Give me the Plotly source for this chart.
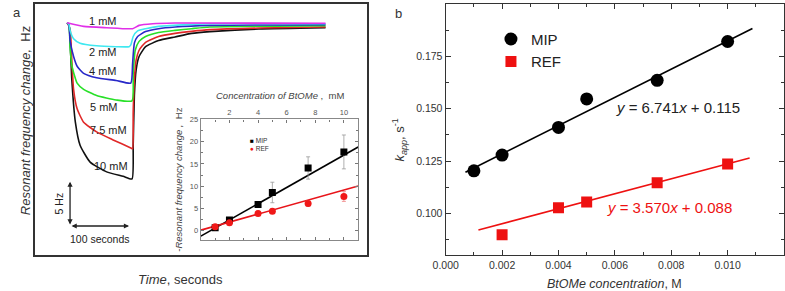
import plotly.graph_objects as go

# ---------------- Panel a : sensorgrams (time in s after injection, frequency change in Hz)
conc_labels = ["1 mM", "2 mM", "4 mM", "5 mM", "7.5 mM", "10 mM"]
curve_colors = ["#e030e8", "#40e8f0", "#2828c8", "#28e028", "#e02828", "#111111"]

t_1mM = [0, 28, 67, 111, 122, 145, 183, 438]
f_1mM = [0, -0.41, -0.56, -0.67, -0.30, -0.11, -0.03, -0.05]

t_2mM = [0, 3.3, 5, 11, 22, 50, 83, 105, 108, 112, 119.5, 133, 155, 242, 438]
f_2mM = [0, -0.2, -0.86, -1.8, -2.3, -2.6, -2.7, -2.7, -2.5, -1.55, -0.92, -0.67, -0.41, -0.11, -0.11]

t_4mM = [0, 3.3, 5, 11, 17, 28, 50, 83, 108, 111, 114, 119.5, 133, 155, 183, 242, 438]
f_4mM = [0, -0.3, -2.0, -3.8, -4.9, -5.7, -6.2, -6.5, -6.8, -4.6, -2.3, -1.55, -1.0, -0.67, -0.48, -0.30, -0.22]

t_5mM = [0, 3.3, 5, 8.3, 17, 28, 50, 83, 110, 112, 115.5, 122, 133, 155, 183, 211, 242, 438]
f_5mM = [0, -0.3, -2.7, -4.9, -6.8, -7.5, -8.2, -8.7, -8.8, -5.7, -3.1, -2.1, -1.55, -1.1, -0.86, -0.67, -0.48, -0.33]

t_7_5mM = [0, 5, 8.3, 11, 17, 28, 50, 78, 108, 111, 112, 114, 117, 122, 133, 155, 183, 211, 242, 325, 438]
f_7_5mM = [0, -0.7, -4.6, -7.5, -9.7, -11.2, -12.3, -13.2, -14.1, -14.2, -10.1, -6.4, -4.2, -3.1, -2.2,
           -1.55, -1.2, -0.97, -0.78, -0.6, -0.48]

t_10mM = [0, 3, 6, 8, 14, 22, 39, 67, 95, 110, 112, 114, 117, 122, 133, 155, 183, 211, 242, 325, 438]
f_10mM = [0, -0.2, -3.4, -6.4, -11.2, -13.8, -15.7, -16.8, -17.3, -17.6, -13.8, -8.2, -5.3, -3.8, -2.7,
          -2.0, -1.6, -1.2, -1.0, -0.7, -0.55]

curves_t = [t_1mM, t_2mM, t_4mM, t_5mM, t_7_5mM, t_10mM]
curves_f = [f_1mM, f_2mM, f_4mM, f_5mM, f_7_5mM, f_10mM]

# scale bar values
scale_hz = 5
scale_s = 100

# ---------------- Inset : frequency change vs concentration (mM)
inset_conc = [1, 2, 4, 5, 7.5, 10]
inset_mip = [0.7, 2.4, 5.9, 8.6, 14.1, 17.7]
inset_mip_err = [0.5, 0.5, 0.6, 2.3, 2.5, 3.8]
inset_ref = [0.9, 1.8, 3.9, 4.4, 6.1, 7.7]
inset_ref_err = [0.4, 0.4, 0.5, 0.5, 0.6, 1.1]
inset_fit_x = [0, 11]
inset_mip_fit = (1.82, -1.2)   # slope, intercept
inset_ref_fit = (0.90, 0.15)

# ---------------- Panel b : k_app vs concentration (M)
b_mip_x = [0.001, 0.002, 0.004, 0.005, 0.0075, 0.010]
b_mip_y = [0.1204, 0.1279, 0.1411, 0.1547, 0.1636, 0.1821]
b_ref_x = [0.002, 0.004, 0.005, 0.0075, 0.010]
b_ref_y = [0.0899, 0.1028, 0.1055, 0.1147, 0.1236]
b_mip_fit = (6.741, 0.115)
b_ref_fit = (3.570, 0.088)
b_mip_fit_x = [0.0007, 0.01088]
b_ref_fit_x = [0.00116, 0.01078]
b_xticks = [0.000, 0.002, 0.004, 0.006, 0.008, 0.010]
b_yticks = [0.100, 0.125, 0.150, 0.175]

W, H = 785, 291
FONT = "Liberation Sans, Arial, sans-serif"


def px(x):
    return x / W


def py(y):
    return 1 - y / H


fig = go.Figure()

# --- panel a curves
for t, f, c, lab in list(zip(curves_t, curves_f, curve_colors, conc_labels))[::-1]:
    fig.add_trace(go.Scatter(x=t, y=f, mode="lines", line=dict(color=c, width=1.6, shape="spline", smoothing=0.5),
                             name=lab, showlegend=False, xaxis="x", yaxis="y", hoverinfo="skip"))

# --- inset
fig.add_trace(go.Scatter(x=inset_fit_x, y=[inset_mip_fit[0] * v + inset_mip_fit[1] for v in inset_fit_x],
                         mode="lines", line=dict(color="black", width=1.6), showlegend=False,
                         xaxis="x2", yaxis="y2"))
fig.add_trace(go.Scatter(x=inset_fit_x, y=[inset_ref_fit[0] * v + inset_ref_fit[1] for v in inset_fit_x],
                         mode="lines", line=dict(color="#e8141a", width=1.6), showlegend=False,
                         xaxis="x2", yaxis="y2"))
fig.add_trace(go.Scatter(x=inset_conc, y=inset_mip, mode="markers",
                         marker=dict(symbol="square", size=7, color="black"),
                         error_y=dict(type="data", array=inset_mip_err, color="#999999", thickness=0.8, width=2),
                         showlegend=False, xaxis="x2", yaxis="y2"))
fig.add_trace(go.Scatter(x=inset_conc, y=inset_ref, mode="markers",
                         marker=dict(symbol="circle", size=7, color="#f01818"),
                         error_y=dict(type="data", array=inset_ref_err, color="#f08080", thickness=0.8, width=2),
                         showlegend=False, xaxis="x2", yaxis="y2"))

# --- panel b
fig.add_trace(go.Scatter(x=b_mip_fit_x, y=[b_mip_fit[0] * v + b_mip_fit[1] for v in b_mip_fit_x],
                         mode="lines", line=dict(color="black", width=1.6), showlegend=False,
                         xaxis="x3", yaxis="y3"))
fig.add_trace(go.Scatter(x=b_ref_fit_x, y=[b_ref_fit[0] * v + b_ref_fit[1] for v in b_ref_fit_x],
                         mode="lines", line=dict(color="#ee1111", width=1.6), showlegend=False,
                         xaxis="x3", yaxis="y3"))
fig.add_trace(go.Scatter(x=b_mip_x, y=b_mip_y, mode="markers", name="MIP",
                         marker=dict(symbol="circle", size=13, color="black"),
                         xaxis="x3", yaxis="y3"))
fig.add_trace(go.Scatter(x=b_ref_x, y=b_ref_y, mode="markers", name="REF",
                         marker=dict(symbol="square", size=11, color="#ee1111"),
                         xaxis="x3", yaxis="y3"))

# scale bar (in data units of panel a)
sb_x0, sb_y0 = 5, -22.9
annotations = [
    dict(x=sb_x0, y=sb_y0 + scale_hz, ax=sb_x0, ay=sb_y0, xref="x", yref="y", axref="x", ayref="y",
         showarrow=True, arrowhead=2, arrowsize=0.8, arrowwidth=1.3, arrowside="end+start", text="",
         arrowcolor="#222"),
    dict(x=sb_x0 + scale_s, y=sb_y0, ax=sb_x0, ay=sb_y0, xref="x", yref="y", axref="x", ayref="y",
         showarrow=True, arrowhead=2, arrowsize=0.8, arrowwidth=1.3, arrowside="end+start", text="",
         arrowcolor="#222"),
]


def ann(text, x, y, size=11, color="#222", angle=0, xanchor="center", yanchor="middle", pad=1):
    annotations.append(dict(text=text, x=px(x), y=py(y), xref="paper", yref="paper", showarrow=False,
                            font=dict(size=size, color=color, family=FONT), textangle=angle,
                            xanchor=xanchor, yanchor=yanchor, borderpad=pad))


# concentration labels
label_pos = [(92, 17), (92, 49), (92, 68), (93, 104), (97, 128), (100, 164)]
for lab, (x, y) in zip(conc_labels, label_pos):
    ann(lab, x, y, size=11)

ann("5 Hz", 47, 202, size=10.5, angle=-90)
ann("100 seconds", 88, 238, size=10.5)
ann("<i>Resonant frequency change,</i>\u00a0 Hz", 13, 118, size=13, angle=-90, color="#333")
ann("<i>Time</i>, seconds", 170, 279, size=13, color="#333")
ann("a", 4, 9, size=13, color="#333")
ann("b", 392, 10, size=13, color="#333")

# inset labels
ann("<i>Concentration of BtOMe</i> ,\u00a0 mM", 272, 93, size=9.5, color="#444")
ann("<i>-Resonant frequency change ,</i>\u00a0 Hz", 168, 178, size=9.5, color="#444", angle=-90)
ann("<span style='color:black'>\u25a0</span>\u00a0MIP", 240, 138.5, size=6.5, color="#333",
    xanchor="left", pad=0)
ann("<span style='color:#f01818'>\u25cf</span>\u00a0REF", 240, 147, size=6.5, color="#333",
    xanchor="left", pad=0)

# panel b labels
ann("<i>y</i> = 6.741<i>x</i> + 0.115", 676, 105, size=15, color="#222")
ann("<i>y</i> = 3.570<i>x</i> + 0.088", 668, 206, size=15, color="#ee1111")
ann("<i>BtOMe concentration</i>, M", 612, 284, size=12.5, color="#333")
ann("<i>k</i><sub><i>app</i></sub>, s<sup>-1</sup>", 393, 137, size=13, color="#333", angle=-90)

axis_common = dict(showgrid=False, zeroline=False)

fig.update_layout(
    width=W, height=H, margin=dict(l=0, r=0, t=0, b=0),
    paper_bgcolor="white", plot_bgcolor="white",
    font=dict(family=FONT, color="#333"),
    xaxis=dict(domain=[px(22), px(360)], range=[-55, 508.3], showticklabels=False, ticks="",
               showline=True, mirror=True, linecolor="#333", linewidth=1.5, anchor="y", **axis_common),
    yaxis=dict(domain=[py(255), py(0)], range=[-26.22, 2.11], showticklabels=False, ticks="",
               showline=True, mirror=True, linecolor="#333", linewidth=1.5, anchor="x", **axis_common),
    xaxis2=dict(domain=[px(191), px(351)], range=[0, 11], side="top", tickvals=[2, 4, 6, 8, 10],
                ticks="inside", ticklen=3, tickcolor="#777", mirror="ticks", showline=True,
                linecolor="#888", linewidth=1.3, tickfont=dict(size=7.5, color="#555"),
                minor=dict(dtick=1, ticks="inside", ticklen=2, tickcolor="#777"),
                anchor="y2", **axis_common),
    yaxis2=dict(domain=[py(239), py(117)], range=[-2, 25], tickvals=[0, 5, 10, 15, 20, 25],
                ticks="inside", ticklen=3, tickcolor="#777", mirror="ticks", showline=True,
                linecolor="#888", linewidth=1.3, tickfont=dict(size=7.5, color="#555"),
                minor=dict(dtick=2.5, ticks="inside", ticklen=2, tickcolor="#777"),
                anchor="x2", **axis_common),
    xaxis3=dict(domain=[px(440), px(784)], range=[0, 0.012], tickvals=b_xticks, tickformat=".3f",
                ticks="inside", ticklen=5, tickcolor="#333", mirror="ticks", showline=True,
                linecolor="#333", linewidth=1.3, tickfont=dict(size=10.5, color="#333"),
                minor=dict(dtick=0.001, ticks="inside", ticklen=3, tickcolor="#333"),
                anchor="y3", **axis_common),
    yaxis3=dict(domain=[py(255), py(0)], range=[0.08, 0.2], tickvals=b_yticks, tickformat=".3f",
                ticks="inside", ticklen=5, tickcolor="#333", mirror="ticks", showline=True,
                linecolor="#333", linewidth=1.3, tickfont=dict(size=10.5, color="#333"),
                minor=dict(dtick=0.0125, ticks="inside", ticklen=3, tickcolor="#333"),
                anchor="x3", **axis_common),
    legend=dict(x=px(486), y=py(19), xanchor="left", yanchor="top", bgcolor="rgba(0,0,0,0)",
                font=dict(size=15, color="#222", family=FONT), tracegroupgap=0, itemwidth=30),
    annotations=annotations,
)

fig.write_html("out.html", config={"displayModeBar": False},
               post_script="document.body.style.margin='0';document.body.style.overflow='hidden';")
